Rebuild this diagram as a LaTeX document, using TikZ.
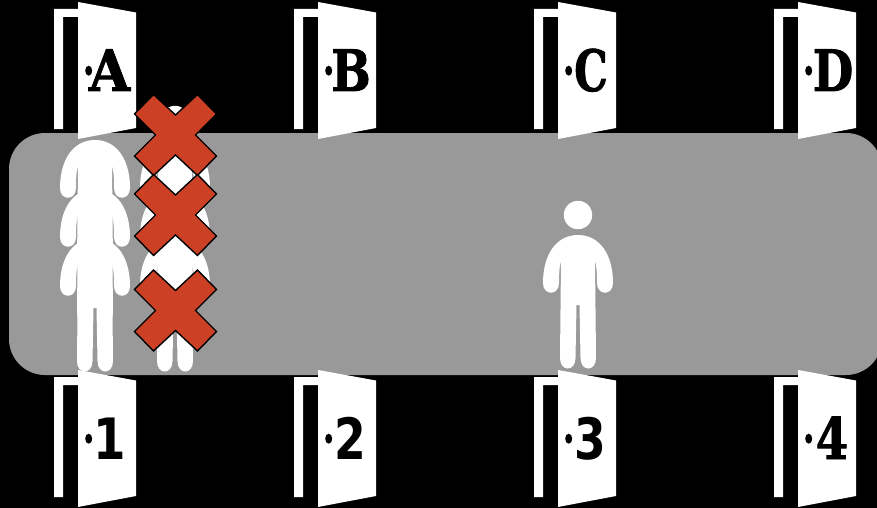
\documentclass[tikz,border=0pt]{standalone}
\usepackage{fontspec}
\setmainfont{DejaVu Serif}
\newfontfamily\heavyserif[FakeBold=1.6]{DejaVu Serif}
\newfontfamily\heavysans{DejaVu Sans}
\begin{document}
\begin{tikzpicture}[x=1pt,y=-1pt,
  doorleaf/.style={fill=white,draw=none},
  hallway/.style={fill=hallgray,draw=none,rounded corners=36pt},
  figurebody/.style={fill=white,draw=none},
  crossmark/.style={fill=crossred,draw=black,line width=1.4pt,line join=miter},
  doorlabel/.style={text=black,inner sep=0pt,anchor=base},
  pics/door/.style n args={4}{code={
    \path[doorleaf] (54,9) -- (80,9) -- (80,17) -- (63,17) -- (63,129) -- (54,129) -- cycle;
    \path[doorleaf] (78,2) -- (136,12.5) -- (136,128) -- (78,139) -- cycle;
    \path[fill=black] (88.7,70.7) ellipse [x radius=3.5pt,y radius=5pt];
    \node[doorlabel,xscale=#3,font=\fontsize{57}{57}#4\bfseries\selectfont] (door#1) at (#2,91) {#1};
  }},
  pics/person/.style={code={
    \path[figurebody] (578,215) circle (14.2);
    \path[figurebody]
      (578,235) .. controls (600,235) and (613,255) .. (613,283)
      .. controls (613,296) and (597,296) .. (597,283)
      .. controls (597,270) and (596,264) .. (595,260)
      -- (596,358) .. controls (596,372) and (580.5,372) .. (580.5,358)
      -- (579.5,305) -- (576.5,305) -- (575.5,358)
      .. controls (575.5,372) and (560,372) .. (560,358)
      -- (561,260)
      .. controls (560,264) and (559,270) .. (559,283)
      .. controls (559,296) and (543,296) .. (543,283)
      .. controls (543,255) and (556,235) .. (578,235) -- cycle;
  }},
  pics/cross/.style={code={
    \path[crossmark] (0,-20) -- (22,-40.5) -- (41,-21) -- (20,0) -- (41,21) -- (22,40.5)
      -- (0,20) -- (-22,40.5) -- (-41,21) -- (-20,0) -- (-41,-21) -- (-22,-40.5) -- cycle;
  }}]
\definecolor{hallgray}{HTML}{999999}
\definecolor{crossred}{HTML}{CC4125}
\path[use as bounding box] (0,0) rectangle (877,508);
\clip (0,0) rectangle (877,508);
\fill[black] (0,0) rectangle (877,508);
\path[hallway] (9,133) rectangle (882,375);
\foreach \dy in {3,-46,-95}{
  \pic at (-483,\dy) {person};
  \pic at (-403,\dy) {person};
}
\pic at (0,0) {person};
\pic at (0,0) {door={A}{109.5}{0.93}{\heavyserif}};
\pic at (240,0) {door={B}{111}{0.82}{\heavyserif}};
\pic at (480,0) {door={C}{111}{0.74}{\heavyserif}};
\pic at (720,0) {door={D}{113}{0.82}{\heavyserif}};
\pic at (0,368) {door={1}{109.5}{0.82}{\heavysans}};
\pic at (240,368) {door={2}{110.5}{0.8}{\heavysans}};
\pic at (480,368) {door={3}{110.5}{0.8}{\heavysans}};
\pic at (720,368) {door={4}{112}{0.82}{\heavyserif}};
\pic at (175.5,135) {cross};
\pic at (175.5,215) {cross};
\pic at (175.5,310.5) {cross};
\end{tikzpicture}
\end{document}
